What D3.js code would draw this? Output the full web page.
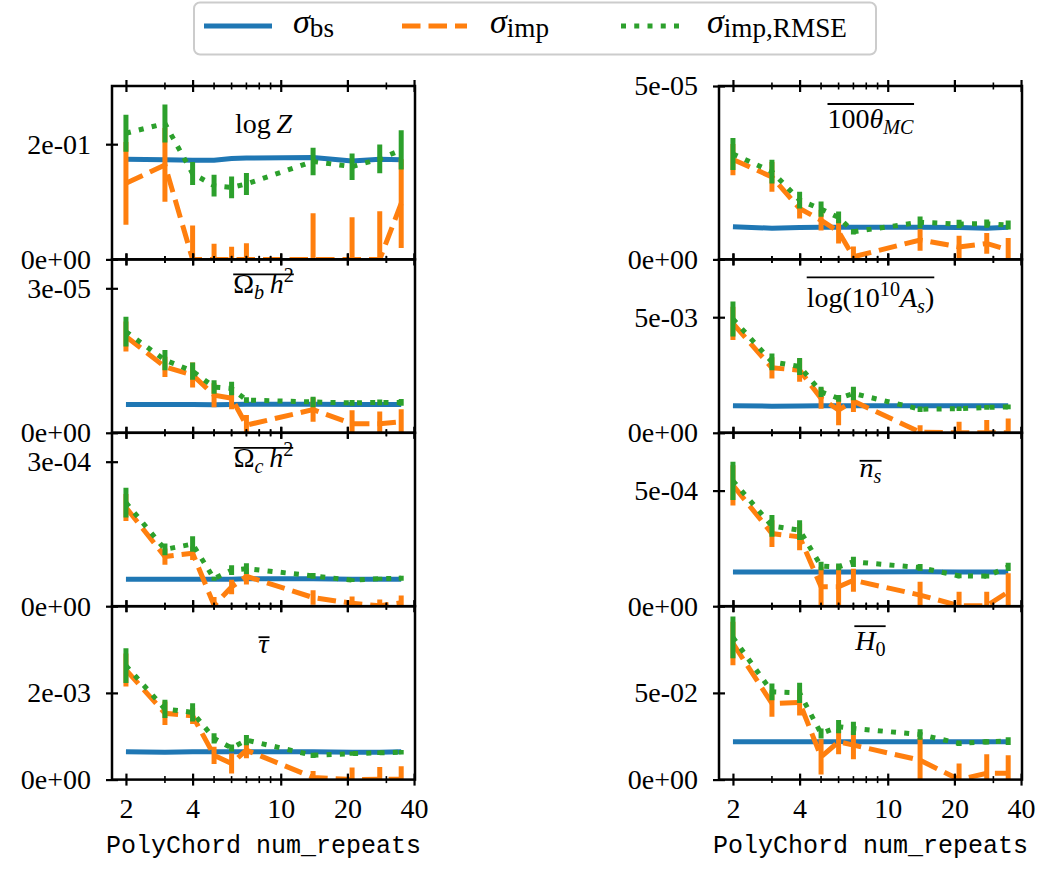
<!DOCTYPE html>
<html><head><meta charset="utf-8">
<script src="https://cdn.jsdelivr.net/npm/d3@7/dist/d3.min.js"></script>
<style>html,body{margin:0;padding:0;background:#fff;} svg{display:block}</style>
</head><body>
<svg id="chart" width="1042" height="872"></svg>
<script>
// ---------------- data ----------------
const numRepeats = [2, 3, 4, 5, 6, 7, 14, 21, 28, 35];
const xTickValues = [2, 4, 10, 20, 40];
const xMinorTicks = [3, 5, 6, 7, 8, 9, 30];
const xLabel = "PolyChord num_repeats";

// log Z
const logZ_bs      = [0.174, 0.173, 0.172, 0.172, 0.175, 0.176, 0.177, 0.171, 0.174, 0.173];
const logZ_imp     = [0.132, 0.164, 0, 0, 0, 0, 0, 0, 0, 0.097];
const logZ_impErr  = [0.072, 0.064, 0.059, 0.027, 0.022, 0.028, 0.080, 0.073, 0.0835, 0.077];
const logZ_rmse    = [0.219, 0.236, 0.149, 0.128, 0.125, 0.131, 0.170, 0.161, 0.1745, 0.190];
const logZ_rmseErr = [0.032, 0.033, 0.020, 0.019, 0.019, 0.019, 0.024, 0.023, 0.025, 0.034];
// Omega_b h^2
const obh2_bs      = [5.9e-6, 5.85e-6, 5.9e-6, 5.8e-6, 5.9e-6, 5.95e-6, 5.95e-6, 5.9e-6, 5.9e-6, 5.9e-6];
const obh2_imp     = [2.0e-5, 1.37e-5, 1.2e-5, 7.8e-6, 7.2e-6, 1.6e-6, 4.8e-6, 1.9e-6, 1.9e-6, 2.3e-6];
const obh2_impErr  = [3.1e-6, 2.1e-6, 2.6e-6, 2.5e-6, 2.3e-6, 2.1e-6, 2.5e-6, 2.8e-6, 2.5e-6, 2.6e-6];
const obh2_rmse    = [2.1e-5, 1.51e-5, 1.28e-5, 9.5e-6, 9.2e-6, 6.8e-6, 6.4e-6, 6.2e-6, 6.3e-6, 6.3e-6];
const obh2_rmseErr = [3.1e-6, 2.1e-6, 1.8e-6, 1.4e-6, 1.4e-6, 6e-7, 1.1e-6, 6e-7, 6e-7, 7e-7];
// Omega_c h^2
const och2_bs      = [5.6e-5, 5.6e-5, 5.6e-5, 5.6e-5, 5.6e-5, 5.7e-5, 5.7e-5, 5.6e-5, 5.6e-5, 5.6e-5];
const och2_imp     = [2.05e-4, 1.03e-4, 1.1e-4, 2e-6, 4.0e-5, 6.2e-5, 1.8e-5, 6e-6, 1e-6, 7e-6];
const och2_impErr  = [2.8e-5, 1.7e-5, 1.4e-5, 1.7e-5, 1.5e-5, 1.7e-5, 1.5e-5, 1.4e-5, 1.3e-5, 1.5e-5];
const och2_rmse    = [2.15e-4, 1.18e-4, 1.29e-4, 5.7e-5, 7.5e-5, 7.8e-5, 6.3e-5, 5.4e-5, 5.7e-5, 5.8e-5];
const och2_rmseErr = [3.1e-5, 1.2e-5, 1.6e-5, 4e-6, 1.0e-5, 1.1e-5, 6e-6, 4e-6, 4e-6, 5e-6];
// tau
const tau_bs       = [6.4e-4, 6.3e-4, 6.4e-4, 6.4e-4, 6.4e-4, 6.4e-4, 6.4e-4, 6.3e-4, 6.3e-4, 6.4e-4];
const tau_imp      = [2.53e-3, 1.53e-3, 1.47e-3, 5.6e-4, 3.7e-4, 6.8e-4, 5e-5, 0, 1e-5, 1e-5];
const tau_impErr   = [3.8e-4, 2.7e-4, 1.9e-4, 2.0e-4, 2.3e-4, 1.9e-4, 1.5e-4, 2.8e-4, 2.8e-4, 3.0e-4];
const tau_rmse     = [2.63e-3, 1.63e-3, 1.55e-3, 9.5e-4, 7.3e-4, 9.1e-4, 5.6e-4, 6.0e-4, 6.2e-4, 6.3e-4];
const tau_rmseErr  = [4.0e-4, 2.1e-4, 2.1e-4, 1.2e-4, 8e-5, 1.2e-4, 6e-5, 5e-5, 5e-5, 5e-5];
// 100 theta_MC
const theta_bs      = [9.4e-6, 9.0e-6, 9.2e-6, 9.3e-6, 9.3e-6, 9.3e-6, 9.3e-6, 9.2e-6, 9.0e-6, 9.3e-6];
const theta_imp     = [2.88e-5, 2.38e-5, 1.47e-5, 1.13e-5, 8.0e-6, 7.5e-7, 5.6e-6, 3.6e-6, 4.6e-6, 2.7e-6];
const theta_impErr  = [4.5e-6, 4.3e-6, 2.9e-6, 3.0e-6, 3.4e-6, 3.0e-6, 3.1e-6, 3.2e-6, 3.0e-6, 3.5e-6];
const theta_rmse    = [3.04e-5, 2.53e-5, 1.71e-5, 1.45e-5, 1.21e-5, 8.0e-6, 1.07e-5, 1.02e-5, 1.03e-5, 9.9e-6];
const theta_rmseErr = [4.6e-6, 3.4e-6, 2.4e-6, 2.2e-6, 1.7e-6, 8e-7, 1.7e-6, 1.2e-6, 1.2e-6, 1.3e-6];
// log(10^10 A_s)
const logA_bs      = [1.17e-3, 1.15e-3, 1.16e-3, 1.17e-3, 1.17e-3, 1.17e-3, 1.17e-3, 1.17e-3, 1.17e-3, 1.17e-3];
const logA_imp     = [4.73e-3, 2.81e-3, 2.71e-3, 1.49e-3, 9.8e-4, 1.37e-3, 3e-5, 0, 0, 0];
const logA_impErr  = [7.2e-4, 4.6e-4, 5.0e-4, 4.5e-4, 6.5e-4, 4.7e-4, 3.0e-4, 4.8e-4, 5.5e-4, 6.2e-4];
const logA_rmse    = [4.92e-3, 3.07e-3, 2.87e-3, 1.77e-3, 1.49e-3, 1.70e-3, 1.02e-3, 1.04e-3, 1.10e-3, 1.12e-3];
const logA_rmseErr = [7.6e-4, 3.6e-4, 3.7e-4, 2.2e-4, 1.5e-4, 2.9e-4, 1.2e-4, 1e-4, 1e-4, 1e-4];
// n_s
const ns_bs        = [1.48e-4, 1.48e-4, 1.48e-4, 1.48e-4, 1.48e-4, 1.48e-4, 1.49e-4, 1.48e-4, 1.48e-4, 1.48e-4];
const ns_imp       = [5.23e-4, 3.14e-4, 3.0e-4, 8.4e-5, 8.4e-5, 1.12e-4, 4.8e-5, 2e-6, 2e-6, 6.2e-5];
const ns_impErr    = [8.7e-5, 5.8e-5, 5.8e-5, 8.7e-5, 9.4e-5, 5.0e-5, 5.8e-5, 6.0e-5, 6.0e-5, 8.0e-5];
const ns_rmse      = [5.42e-4, 3.47e-4, 3.29e-4, 1.74e-4, 1.70e-4, 1.92e-4, 1.67e-4, 1.31e-4, 1.30e-4, 1.70e-4];
const ns_rmseErr   = [8.3e-5, 4.7e-5, 4.3e-5, 1.8e-5, 1.5e-5, 2.2e-5, 1.5e-5, 1e-5, 1e-5, 1.8e-5];
// H_0
const H0_bs        = [0.0218, 0.0218, 0.0218, 0.0218, 0.0219, 0.0219, 0.0219, 0.0218, 0.0218, 0.0218];
const H0_imp       = [0.0785, 0.0439, 0.0445, 0.0131, 0.0218, 0.0199, 0.0112, 0.0, 0.0036, 0.0036];
const H0_impErr    = [0.0125, 0.0077, 0.0075, 0.0101, 0.0072, 0.0081, 0.013, 0.0093, 0.011, 0.0105];
const H0_rmse      = [0.082, 0.0506, 0.050, 0.0266, 0.0305, 0.0295, 0.026, 0.0209, 0.0218, 0.0222];
const H0_rmseErr   = [0.012, 0.0048, 0.0058, 0.0029, 0.0038, 0.0038, 0.003, 0.0015, 0.0015, 0.0022];

const yTickValues = [0.2, 3e-5, 3e-4, 2e-3, 5e-5, 5e-3, 5e-4, 5e-2];
const yTickLabels = ["2e-01", "3e-05", "3e-04", "2e-03", "5e-05", "5e-03", "5e-04", "5e-02"];
const zeroLabel = "0e+00";
const yLimits = [0.301, 3.6e-5, 3.6e-4, 4.0e-3, 5.0e-5, 7.5e-3, 7.5e-4, 0.1];

// titles as math segments: [text, style(i/r), position(b/sub/sup)]
const titles = [
  [["log", "r", "b"], ["\u2009", "r", "b"], ["Z", "i", "b"]],
  [["\u03A9", "r", "b"], ["b", "i", "sub"], ["\u2009h", "i", "b"], ["2", "r", "sup"]],
  [["\u03A9", "r", "b"], ["c", "i", "sub"], ["\u2009h", "i", "b"], ["2", "r", "sup"]],
  [["\u03C4", "i", "b"]],
  [["100", "r", "b"], ["\u03B8", "i", "b"], ["MC", "i", "sub"]],
  [["log(10", "r", "b"], ["10", "r", "sup"], ["A", "i", "b"], ["s", "i", "sub"], [")", "r", "b"]],
  [["n", "i", "b"], ["s", "i", "sub"]],
  [["H", "i", "b"], ["0", "r", "sub"]]
];
const titleOverline = [false, true, true, true, true, true, true, true];

const legendLabels = [
  [["\u03C3", "i", "b"], ["bs", "r", "sub"]],
  [["\u03C3", "i", "b"], ["imp", "r", "sub"]],
  [["\u03C3", "i", "b"], ["imp,RMSE", "r", "sub"]]
];

// ---------------- layout / style ----------------
const panelData = [
  [logZ_bs, logZ_imp, logZ_impErr, logZ_rmse, logZ_rmseErr],
  [obh2_bs, obh2_imp, obh2_impErr, obh2_rmse, obh2_rmseErr],
  [och2_bs, och2_imp, och2_impErr, och2_rmse, och2_rmseErr],
  [tau_bs, tau_imp, tau_impErr, tau_rmse, tau_rmseErr],
  [theta_bs, theta_imp, theta_impErr, theta_rmse, theta_rmseErr],
  [logA_bs, logA_imp, logA_impErr, logA_rmse, logA_rmseErr],
  [ns_bs, ns_imp, ns_impErr, ns_rmse, ns_rmseErr],
  [H0_bs, H0_imp, H0_impErr, H0_rmse, H0_rmseErr]
];
const titleBaseline = [47, 34, 34, 47, 42, 48, 44, 44];
const titleOverOff  = [0, 19, 19, 16, 24, 30, 16, 24];

const svg = d3.select("#chart");
const W = 303, H = 173.4;
const colX = [112, 719], topY = 86;
const xDomain = [1.73, 40.4];
const LW = 5;
const C = { bs: "#1f77b4", imp: "#ff7f0e", rmse: "#2ca02c" };
const dashImp = "18.5,8", dashRmse = "5,8.25";
const serif = "'Liberation Serif', 'DejaVu Serif', serif";
const mono = "'Liberation Mono', 'DejaVu Sans Mono', monospace";

function mathText(parent, segs, x, y, size, anchor, subRatio, subShift, supShift) {
  const t = parent.append("text").attr("x", x).attr("y", y)
    .attr("text-anchor", anchor).attr("font-family", serif)
    .attr("font-size", size).attr("fill", "#000");
  let cur = 0;
  segs.forEach(([txt, st, pos]) => {
    const target = pos === "sub" ? subShift : pos === "sup" ? -supShift : 0;
    const fs = pos === "b" ? size : size * subRatio;
    t.append("tspan").attr("dy", target - cur).attr("font-size", fs)
      .attr("font-style", st === "i" ? "italic" : "normal").text(txt);
    cur = target;
  });
  return t;
}

panelData.forEach((d, i) => {
  const [bs, imp, impErr, rmse, rmseErr] = d;
  const col = i < 4 ? 0 : 1, row = i % 4;
  const x0 = colX[col], y0 = topY + row * H;
  const x = d3.scaleLog().domain(xDomain).range([x0, x0 + W]);
  const y = d3.scaleLinear().domain([0, yLimits[i]]).range([y0 + H, y0]);

  const cid = "clip" + i;
  svg.append("clipPath").attr("id", cid).append("rect")
    .attr("x", x0).attr("y", y0).attr("width", W).attr("height", H);
  const plot = svg.append("g").attr("clip-path", `url(#${cid})`);
  const line = d3.line().x((v, k) => x(numRepeats[k])).y(v => y(v));

  // sigma_bs
  plot.append("path").datum(bs).attr("d", line).attr("fill", "none")
    .attr("stroke", C.bs).attr("stroke-width", LW);
  // sigma_imp
  plot.append("path").datum(imp).attr("d", line).attr("fill", "none")
    .attr("stroke", C.imp).attr("stroke-width", LW).attr("stroke-dasharray", dashImp);
  plot.selectAll(null).data(imp).enter().append("line")
    .attr("x1", (v, k) => x(numRepeats[k])).attr("x2", (v, k) => x(numRepeats[k]))
    .attr("y1", (v, k) => y(v - impErr[k])).attr("y2", (v, k) => y(v + impErr[k]))
    .attr("stroke", C.imp).attr("stroke-width", LW);
  // sigma_imp,RMSE
  plot.append("path").datum(rmse).attr("d", line).attr("fill", "none")
    .attr("stroke", C.rmse).attr("stroke-width", LW).attr("stroke-dasharray", dashRmse);
  plot.selectAll(null).data(rmse).enter().append("line")
    .attr("x1", (v, k) => x(numRepeats[k])).attr("x2", (v, k) => x(numRepeats[k]))
    .attr("y1", (v, k) => y(v - rmseErr[k])).attr("y2", (v, k) => y(v + rmseErr[k]))
    .attr("stroke", C.rmse).attr("stroke-width", LW);

  // axes
  const yAxis = d3.axisLeft(y).tickValues([0, yTickValues[i]])
    .tickFormat(v => v === 0 ? zeroLabel : yTickLabels[i])
    .tickSize(6).tickPadding(15).tickSizeOuter(0);
  const gy = svg.append("g").attr("transform", `translate(${x0},0)`).call(yAxis);
  const isBottom = row === 3;
  const xAxisB = d3.axisBottom(x).tickValues(xTickValues)
    .tickFormat(isBottom ? d3.format("d") : () => "")
    .tickSize(6).tickPadding(12.6).tickSizeOuter(0);
  const gxb = svg.append("g").attr("transform", `translate(0,${y0 + H})`).call(xAxisB);
  const xAxisT = d3.axisTop(x).tickValues(xTickValues).tickFormat(() => "")
    .tickSize(6).tickSizeOuter(0);
  const gxt = svg.append("g").attr("transform", `translate(0,${y0})`).call(xAxisT);
  [gy, gxb, gxt].forEach(g => {
    g.attr("font-family", null).attr("font-size", null);
    g.select(".domain").remove();
    g.selectAll(".tick line").attr("stroke", "#000").attr("stroke-width", 2.2);
    g.selectAll(".tick text").attr("font-family", serif).attr("font-size", 28).attr("fill", "#000");
  });
  gy.selectAll(".tick line").attr("x1", 6);
  gxb.selectAll(".tick line").attr("y1", -6);
  gxt.selectAll(".tick line").attr("y1", 6);
  // minor ticks
  [y0, y0 + H].forEach(yy => {
    svg.append("g").selectAll("line").data(xMinorTicks).enter().append("line")
      .attr("x1", v => x(v)).attr("x2", v => x(v))
      .attr("y1", yy - 3.5).attr("y2", yy + 3.5)
      .attr("stroke", "#000").attr("stroke-width", 1.6);
  });
  // frame
  svg.append("rect").attr("x", x0).attr("y", y0).attr("width", W).attr("height", H)
    .attr("fill", "none").attr("stroke", "#000").attr("stroke-width", 2.5);

  // title
  const cx = x0 + W / 2, base = y0 + titleBaseline[i];
  const t = mathText(svg, titles[i], cx, base, 28, "middle", 0.72, 6, 11);
  if (titleOverline[i]) {
    const bb = t.node().getBBox();
    svg.append("line").attr("x1", bb.x).attr("x2", bb.x + bb.width)
      .attr("y1", base - titleOverOff[i]).attr("y2", base - titleOverOff[i])
      .attr("stroke", "#000").attr("stroke-width", 1.8);
  }
  // x label
  if (isBottom) {
    svg.append("text").attr("x", cx).attr("y", 853).attr("text-anchor", "middle")
      .attr("font-family", mono).attr("font-size", 25).attr("fill", "#000").text(xLabel);
  }
});

// ---------------- legend ----------------
const leg = svg.append("g");
leg.append("rect").attr("x", 194).attr("y", 2.5).attr("width", 682).attr("height", 52)
  .attr("rx", 6).attr("fill", "#fff").attr("stroke", "#cccccc").attr("stroke-width", 2);
const legHandles = [[204, 272, C.bs, null], [402, 467, C.imp, dashImp], [621, 686, C.rmse, dashRmse]];
const legTextX = [293, 490, 707];
legHandles.forEach(([a, b, c, dash], k) => {
  const l = leg.append("line").attr("x1", a).attr("x2", b).attr("y1", 26).attr("y2", 26)
    .attr("stroke", c).attr("stroke-width", LW);
  if (dash) l.attr("stroke-dasharray", dash);
  mathText(leg, legendLabels[k], legTextX[k], 33, 34, "start", 0.8, 4, 10);
});
</script>
</body></html>
